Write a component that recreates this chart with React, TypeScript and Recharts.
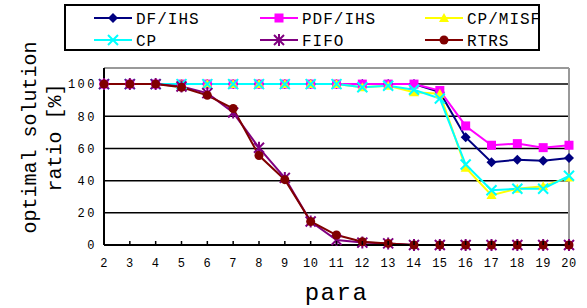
import React from "react";
import {
  LineChart,
  Line,
  XAxis,
  YAxis,
  CartesianGrid,
  ReferenceLine,
} from "recharts";

const FONT = '"Liberation Mono", "DejaVu Sans Mono", monospace';

// x values (para)
const paras = [2, 3, 4, 5, 6, 7, 8, 9, 10, 11, 12, 13, 14, 15, 16, 17, 18, 19, 20];

// series values, one per para
const dfIhs = [100, 100, 100, 100, 100, 100, 100, 100, 100, 100, 100, 100, 100, 95, 67, 51.5, 53, 52.3, 54];
const pdfIhs = [100, 100, 100, 100, 100, 100, 100, 100, 100, 100, 100, 100, 100, 96, 74, 62, 63, 60.5, 62];
const cpMisf = [100, 100, 100, 100, 100, 100, 100, 100, 100, 100, 98, 99, 95, 94, 48, 31, 35, 36.5, 42];
const cp = [100, 100, 100, 100, 100, 100, 100, 100, 100, 100, 98, 99, 96.5, 91, 50, 34, 35, 35, 43];
const fifo = [100, 100, 100, 98.5, 94.4, 82.3, 60.4, 41.7, 14.6, 3.1, 1.5, 1, 0, 0, 0, 0, 0, 0, 0];
const rtrs = [100, 100, 100, 98, 93, 84.8, 55.6, 40.6, 14.6, 6.2, 2, 1, 0, 0, 0, 0, 0, 0, 0];

const yTicks = [0, 20, 40, 60, 80, 100];

type Shape = "diamond" | "square" | "triangle" | "x" | "star" | "circle";

const series: { key: string; name: string; color: string; shape: Shape; values: number[] }[] = [
  { key: "dfIhs", name: "DF/IHS", color: "#000080", shape: "diamond", values: dfIhs },
  { key: "pdfIhs", name: "PDF/IHS", color: "#ff00ff", shape: "square", values: pdfIhs },
  { key: "cpMisf", name: "CP/MISF", color: "#ffff00", shape: "triangle", values: cpMisf },
  { key: "cp", name: "CP", color: "#00ffff", shape: "x", values: cp },
  { key: "fifo", name: "FIFO", color: "#800080", shape: "star", values: fifo },
  { key: "rtrs", name: "RTRS", color: "#800000", shape: "circle", values: rtrs },
];

const data = paras.map((p, i) => {
  const row: Record<string, number> = { para: p };
  series.forEach((s) => (row[s.key] = s.values[i]));
  return row;
});

function Marker({ shape, color, cx, cy }: { shape: Shape; color: string; cx: number; cy: number }) {
  if (cx == null || cy == null) return null;
  switch (shape) {
    case "diamond":
      return <path d={`M${cx},${cy - 5}L${cx + 5},${cy}L${cx},${cy + 5}L${cx - 5},${cy}Z`} fill={color} />;
    case "square":
      return <rect x={cx - 4.5} y={cy - 4.5} width={9} height={9} fill={color} />;
    case "triangle":
      return <path d={`M${cx},${cy - 5}L${cx + 5},${cy + 4}L${cx - 5},${cy + 4}Z`} fill={color} />;
    case "x":
      return (
        <path
          d={`M${cx - 5},${cy - 5}L${cx + 5},${cy + 5}M${cx - 5},${cy + 5}L${cx + 5},${cy - 5}`}
          stroke={color}
          strokeWidth={2}
        />
      );
    case "star":
      return (
        <path
          d={`M${cx - 5},${cy - 5}L${cx + 5},${cy + 5}M${cx - 5},${cy + 5}L${cx + 5},${cy - 5}M${cx},${cy - 6}L${cx},${cy + 6}`}
          stroke={color}
          strokeWidth={2}
        />
      );
    default:
      return <circle cx={cx} cy={cy} r={4.5} fill={color} />;
  }
}

function XTick(props: any) {
  const { x, y, payload } = props;
  const axisY = y - 4;
  return (
    <g>
      <line x1={x} y1={axisY} x2={x} y2={axisY - 4} stroke="#000" strokeWidth={1.5} />
      <text x={x} y={y + 18} textAnchor="middle" fontFamily={FONT} fontSize={12} letterSpacing={0.5} fill="#000">
        {payload.value}
      </text>
    </g>
  );
}

function YLabel() {
  return (
    <g fontFamily={FONT} fontSize={20} fill="#000">
      <text transform="translate(36,137.5) rotate(-90)" textAnchor="middle" fill="#000">
        optimal solution
      </text>
      <text transform="translate(61,137.5) rotate(-90)" textAnchor="middle" fill="#000">
        ratio [%]
      </text>
    </g>
  );
}

// legend layout: 3 columns x 2 rows
const legendCols = [94, 260, 425];
const legendRows = [18, 40];

function LegendBox() {
  return (
    <svg width={587} height={56} style={{ position: "absolute", left: 0, top: 0 }}>
      <rect x={65} y={5} width={474} height={45} fill="#fff" stroke="#000" strokeWidth={2} />
      {series.map((s, i) => {
        const lx = legendCols[i % 3];
        const ly = legendRows[Math.floor(i / 3)];
        return (
          <g key={s.key}>
            <line x1={lx} y1={ly} x2={lx + 38} y2={ly} stroke={s.color} strokeWidth={2} />
            <Marker shape={s.shape} color={s.color} cx={lx + 19} cy={ly} />
            <text x={lx + 42} y={ly + 5.5} fontFamily={FONT} fontSize={16} letterSpacing={1} fill="#000">
              {s.name}
            </text>
          </g>
        );
      })}
    </svg>
  );
}

export default function App() {
  return (
    <div style={{ position: "absolute", left: 0, top: 0, width: 587, height: 308, background: "#fff" }}>
      <LineChart width={587} height={308} data={data} margin={{ top: 68, right: 18, bottom: 0, left: 0 }}>
        <CartesianGrid vertical={false} stroke="#000" strokeWidth={1.5} />
        <ReferenceLine y={110} stroke="#999" strokeWidth={2} />
        <ReferenceLine x={20} stroke="#999" strokeWidth={2} />
        <XAxis
          dataKey="para"
          type="number"
          domain={[2, 20]}
          ticks={paras}
          interval={0}
          height={63}
          tickSize={4}
          tickMargin={0}
          tickLine={false}
          axisLine={{ stroke: "#000", strokeWidth: 2 }}
          tick={<XTick />}
          label={{
            value: "para",
            position: "insideBottom",
            offset: 8,
            fill: "#000",
            fontFamily: FONT,
            fontSize: 24,
            letterSpacing: 1.5,
          }}
        />
        <YAxis
          type="number"
          domain={[0, 110]}
          ticks={yTicks}
          width={104}
          tickLine={false}
          tickSize={6}
          tickMargin={1}
          axisLine={{ stroke: "#000", strokeWidth: 2 }}
          tick={{ fill: "#000", fontFamily: FONT, fontSize: 12, letterSpacing: 2.5 }}
          label={<YLabel />}
        />
        {series.map((s) => (
          <Line
            key={s.key}
            dataKey={s.key}
            name={s.name}
            stroke={s.color}
            strokeWidth={2}
            type="linear"
            isAnimationActive={false}
            dot={(p: any) => <Marker key={`${s.key}-${p.index}`} shape={s.shape} color={s.color} cx={p.cx} cy={p.cy} />}
            activeDot={false}
          />
        ))}
      </LineChart>
      <LegendBox />
    </div>
  );
}
